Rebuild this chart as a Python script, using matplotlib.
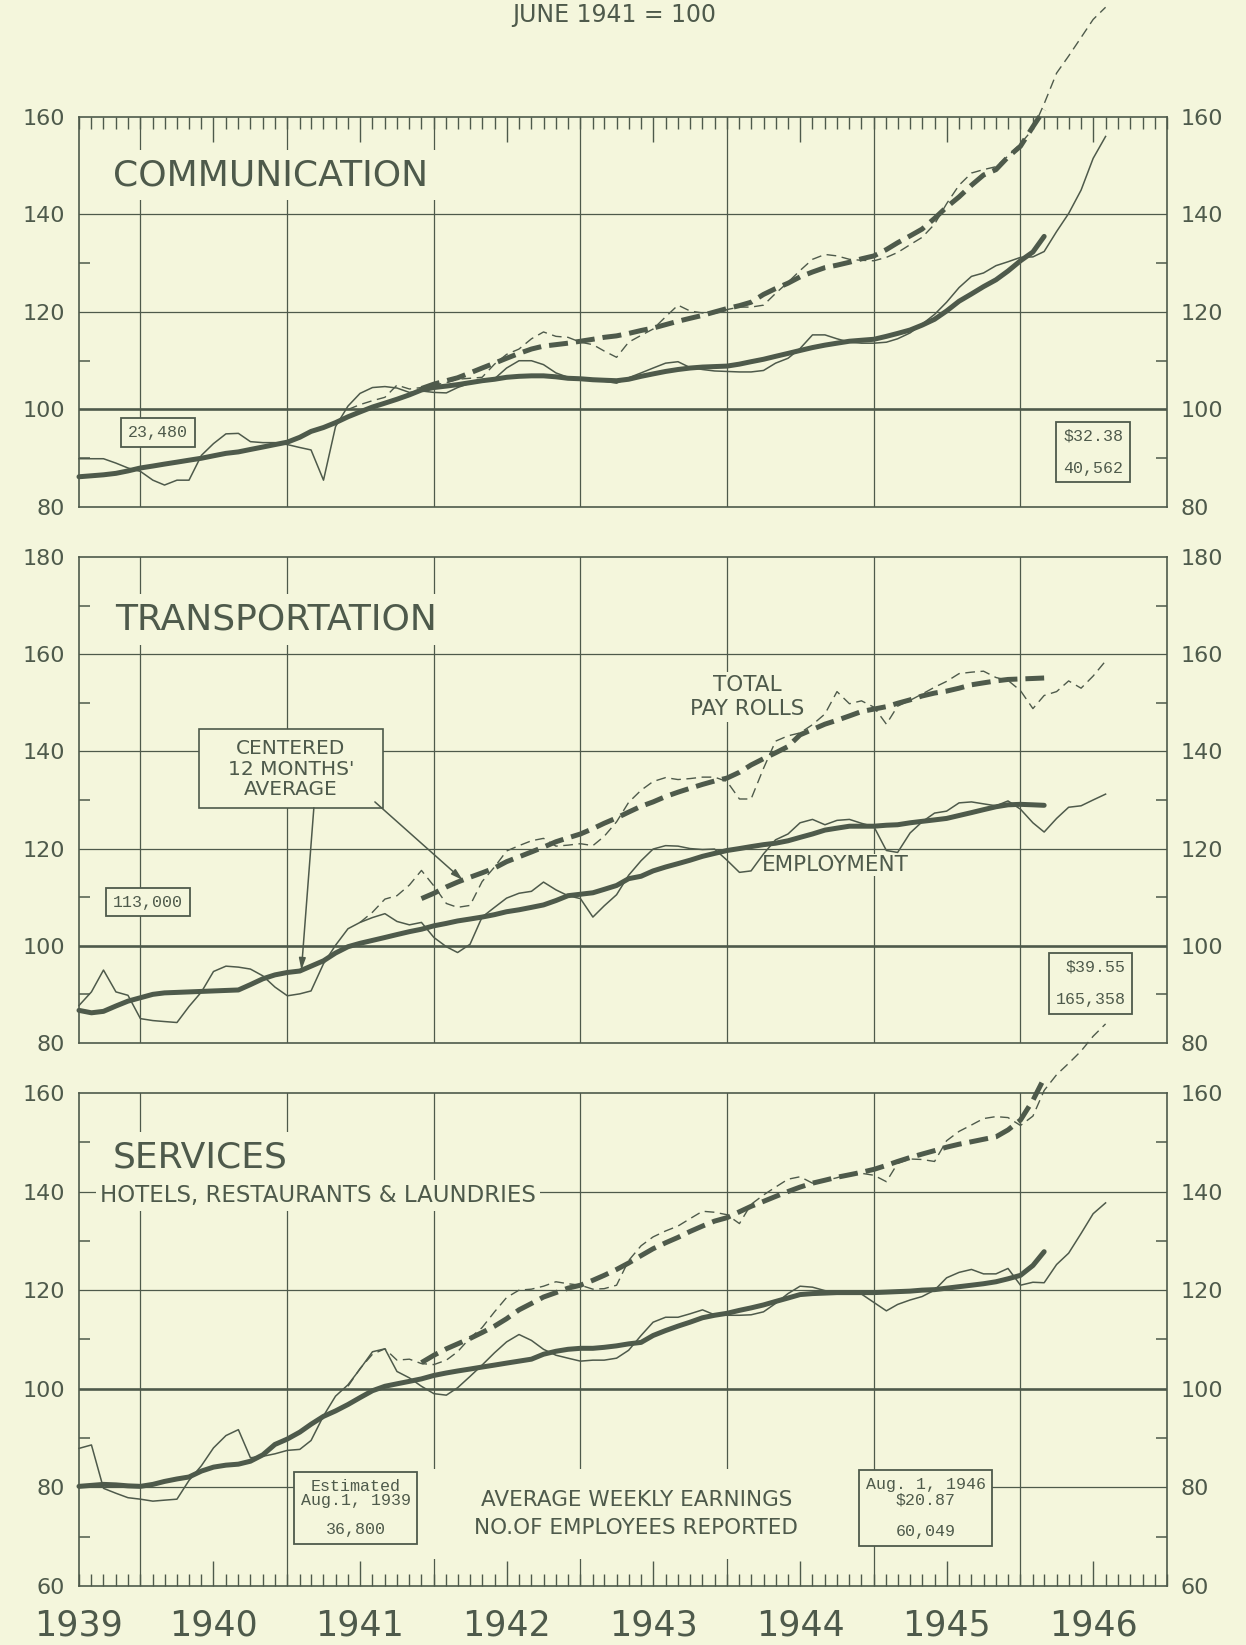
import matplotlib
matplotlib.use("Agg")
import matplotlib.pyplot as plt
import matplotlib.dates as mdates
from matplotlib.patches import Rectangle
import pandas as pd

BG = "#f4f6dc"
INK = "#4e5a4b"

# monthly points, Aug 1939 .. Aug 1946 (index June 1941 = 100)
months = pd.date_range("1939-08-01", "1946-08-01", freq="MS")

# ---- communication
comm_emp = [89.9, 89.9, 89.9, 89.0, 88.0, 87.3, 85.5, 84.5, 85.5, 85.5,
            90.6, 93.0, 95.0, 95.1, 93.4, 93.2, 93.2, 92.8, 92.2, 91.7,
            85.5, 96.5, 100.7, 103.3, 104.5, 104.7, 104.4, 103.5, 103.8, 103.5,
            103.4, 104.5, 105.4, 105.9, 106.3, 108.5, 110.0, 110.0, 109.2, 107.5,
            106.6, 106.3, 106.0, 105.8, 105.4, 106.5, 107.5, 108.5, 109.5, 109.8,
            108.6, 108.2, 107.9, 107.8, 107.7, 107.7, 108.0, 109.5, 110.5, 112.5,
            115.3, 115.3, 114.5, 113.8, 113.6, 113.6, 113.8, 114.5, 115.7, 117.5,
            119.5, 122.0, 125.0, 127.3, 128.0, 129.5, 130.3, 131.2, 131.3, 132.4,
            136.5, 140.2, 145.0, 151.5, 156.0]
comm_emp_avg = [86.2, 86.4, 86.6, 86.9, 87.4, 88.0, 88.4, 88.8, 89.2, 89.6,
                90.0, 90.5, 91.0, 91.3, 91.8, 92.3, 92.8, 93.3, 94.3, 95.5,
                96.3, 97.3, 98.5, 99.5, 100.5, 101.3, 102.1, 103.0, 104.0, 104.5,
                104.8, 105.1, 105.5, 105.9, 106.2, 106.6, 106.8, 106.9, 106.9, 106.7,
                106.4, 106.3, 106.1, 106.0, 105.9, 106.2, 106.8, 107.3, 107.8, 108.2,
                108.5, 108.7, 108.8, 108.9, 109.3, 109.8, 110.3, 110.9, 111.5, 112.1,
                112.7, 113.2, 113.6, 114.0, 114.2, 114.4, 115.0, 115.6, 116.3, 117.3,
                118.5, 120.2, 122.2, 123.7, 125.2, 126.6, 128.4, 130.5, 132.3, 135.5]
comm_pay_start = 22   # June 1941
comm_pay = [100.0, 101.0, 101.8, 102.5, 105.0, 104.2, 104.5, 105.0,
            105.5, 106.2, 106.4, 106.6, 109.3, 111.3, 112.4, 114.5, 115.9, 115.0,
            114.8, 113.8, 113.3, 112.0, 110.7, 113.8, 115.2, 116.5, 119.0, 121.4,
            120.2, 119.8, 119.7, 120.5, 121.0, 121.0, 121.4, 123.8, 126.1, 128.5,
            130.8, 131.8, 131.5, 130.8, 130.6, 130.5, 131.2, 132.2, 133.8, 135.3,
            138.0, 142.2, 146.0, 148.5, 149.2, 149.8, 152.0, 154.5, 157.5, 162.7,
            169.0, 172.5, 176.3, 180.0, 182.5]
comm_pay_avg = [104.3, 105.2,
                105.9, 106.5, 107.5, 108.5, 109.5, 110.5, 111.5, 112.4, 113.0, 113.3,
                113.6, 114.0, 114.4, 114.8, 115.1, 115.6, 116.2, 116.7, 117.4, 118.1,
                118.7, 119.3, 120.0, 120.7, 121.3, 122.0, 123.6, 124.8, 125.9, 127.2,
                128.2, 129.1, 129.6, 130.2, 130.9, 131.5, 132.8, 134.2, 135.6, 137.0,
                139.2, 141.5, 143.6, 146.0, 148.1, 149.2, 151.8, 154.0, 158.0, 161.5]

# ---- transportation
trans_emp = [87.7, 90.5, 95.0, 90.5, 89.8, 85.0, 84.6, 84.4, 84.2, 87.5,
             90.5, 94.7, 95.8, 95.6, 95.2, 93.8, 91.5, 89.7, 90.1, 90.7,
             96.3, 100.1, 103.5, 104.8, 105.8, 106.6, 105.0, 104.3, 104.8, 101.7,
             99.8, 98.6, 100.3, 105.9, 107.9, 109.8, 110.8, 111.2, 113.1, 111.5,
             110.3, 109.7, 105.9, 108.2, 110.5, 114.5, 117.5, 119.9, 120.6, 120.5,
             120.0, 119.8, 119.9, 117.6, 115.1, 115.4, 118.9, 121.8, 123.0, 125.3,
             126.0, 124.9, 125.8, 126.0, 125.2, 124.5, 119.6, 119.2, 123.2, 125.5,
             127.3, 127.7, 129.4, 129.6, 129.2, 128.8, 129.8, 128.1, 125.3, 123.4,
             126.2, 128.5, 128.8, 130.0, 131.2]
trans_emp_avg = [86.7, 86.2, 86.5, 87.6, 88.6, 89.3, 90.0, 90.3, 90.4, 90.5,
                 90.6, 90.7, 90.8, 90.9, 92.0, 93.2, 94.0, 94.5, 94.8, 95.8,
                 96.9, 98.5, 99.8, 100.5, 101.1, 101.7, 102.3, 102.9, 103.4, 104.1,
                 104.6, 105.1, 105.5, 105.9, 106.4, 107.0, 107.4, 107.9, 108.4, 109.3,
                 110.3, 110.6, 110.9, 111.6, 112.4, 113.8, 114.3, 115.4, 116.2, 116.9,
                 117.6, 118.4, 119.0, 119.6, 120.0, 120.4, 120.8, 121.1, 121.6, 122.3,
                 123.0, 123.8, 124.2, 124.6, 124.6, 124.6, 124.8, 124.9, 125.3, 125.6,
                 125.9, 126.2, 126.8, 127.4, 128.0, 128.6, 129.0, 129.1, 129.0, 128.9]
trans_pay_start = 23   # July 1941
trans_pay = [104.8, 106.9, 109.6, 110.3, 112.5, 115.5, 112.3,
             108.7, 107.9, 108.3, 113.2, 116.2, 119.5, 120.6, 121.6, 122.1, 120.5,
             120.7, 121.0, 120.6, 122.5, 125.5, 129.5, 132.0, 133.8, 134.6, 134.2,
             134.4, 134.7, 134.7, 133.8, 130.2, 130.2, 136.5, 142.1, 143.2, 143.8,
             145.5, 147.7, 152.3, 149.8, 150.4, 149.1, 145.6, 149.3, 150.5, 151.8,
             153.2, 154.4, 156.0, 156.3, 156.5, 155.2, 154.6, 152.5, 148.8, 151.5,
             152.3, 154.5, 153.0, 155.5, 158.6]
trans_pay_avg = [109.7, 110.8,
                 112.1, 113.1, 114.1, 115.0, 116.0, 117.3, 118.3, 119.3, 120.3, 121.4,
                 122.2, 123.0, 124.1, 125.2, 126.3, 127.5, 128.7, 129.6, 130.7, 131.6,
                 132.4, 133.2, 133.9, 134.5, 135.7, 137.2, 138.5, 139.7, 141.0, 143.4,
                 144.5, 145.6, 146.4, 147.3, 148.2, 148.7, 149.2, 149.9, 150.6, 151.4,
                 152.0, 152.4, 153.0, 153.7, 154.1, 154.5, 154.8, 154.9, 155.0, 155.1]

# ---- services
serv_emp = [87.9, 88.6, 79.8, 78.8, 77.9, 77.6, 77.2, 77.4, 77.6, 81.4,
            84.4, 88.0, 90.5, 91.7, 86.0, 86.3, 86.8, 87.5, 87.7, 89.5,
            94.5, 98.5, 100.8, 104.0, 107.5, 108.1, 103.5, 102.2, 100.5, 99.0,
            98.7, 100.2, 102.5, 104.8, 107.3, 109.5, 111.0, 109.8, 108.0, 106.8,
            106.2, 105.6, 105.8, 105.8, 106.2, 107.8, 110.8, 113.5, 114.5, 114.5,
            115.2, 116.0, 115.0, 114.9, 114.9, 115.0, 115.6, 117.3, 119.3, 120.8,
            120.6, 119.9, 119.6, 119.4, 119.2, 117.5, 115.8, 117.1, 118.0, 118.7,
            120.0, 122.5, 123.6, 124.2, 123.3, 123.3, 124.4, 121.0, 121.6, 121.5,
            125.2, 127.5, 131.5, 135.5, 137.7]
serv_emp_avg = [80.2, 80.4, 80.6, 80.5, 80.3, 80.2, 80.6, 81.2, 81.7, 82.1,
                83.3, 84.1, 84.5, 84.7, 85.3, 86.6, 88.7, 89.8, 91.2, 92.8,
                94.4, 95.5, 96.8, 98.2, 99.6, 100.5, 101.0, 101.5, 102.0, 102.7,
                103.2, 103.6, 104.0, 104.4, 104.8, 105.2, 105.6, 106.0, 107.0, 107.6,
                108.0, 108.2, 108.2, 108.4, 108.7, 109.1, 109.4, 110.8, 111.8, 112.7,
                113.5, 114.4, 114.9, 115.3, 115.9, 116.4, 117.0, 117.7, 118.4, 119.1,
                119.3, 119.4, 119.5, 119.5, 119.5, 119.5, 119.6, 119.7, 119.8, 120.0,
                120.1, 120.4, 120.7, 121.0, 121.3, 121.7, 122.3, 123.0, 125.0, 127.8]
serv_pay_start = 22
serv_pay = [100.5, 104.1, 107.0, 108.1, 105.8, 106.0, 105.1, 104.9,
            105.8, 107.5, 110.3, 112.4, 115.6, 118.5, 120.0, 120.2, 120.8, 121.7,
            121.3, 121.0, 120.2, 120.3, 121.0, 126.0, 129.0, 130.8, 132.0, 133.0,
            134.5, 136.0, 135.8, 135.3, 133.5, 137.4, 139.3, 140.9, 142.5, 143.0,
            141.7, 142.2, 142.8, 143.6, 143.7, 143.3, 142.0, 145.7, 146.6, 146.5,
            146.1, 150.3, 152.2, 153.5, 154.8, 155.2, 155.0, 153.4, 155.3, 160.5,
            163.7, 166.0, 168.5, 171.5, 174.0]
serv_pay_avg = [105.3, 106.8,
                108.1, 109.1, 110.2, 111.4, 112.7, 114.2, 116.0, 117.3, 118.6, 119.5,
                120.4, 121.0, 122.0, 123.0, 124.2, 125.5, 127.0, 128.4, 129.6, 130.7,
                131.9, 133.0, 134.0, 134.7, 135.9, 137.0, 138.0, 139.0, 140.0, 140.9,
                141.7, 142.3, 142.9, 143.4, 143.9, 144.5, 145.3, 146.1, 146.9, 147.6,
                148.3, 149.0, 149.6, 150.1, 150.6, 151.1, 152.5, 154.5, 158.5, 163.0]
AVG_START = 28   # December 1941

year_labels = ["1939", "1940", "1941", "1942", "1943", "1944", "1945", "1946"]


def d(s):
    return mdates.datestr2num(s)


x = mdates.date2num(months.values)
jan_lines = [d(f"{y}-01-01") for y in range(1940, 1947)]

plt.rcParams["font.family"] = "DejaVu Sans"
fig = plt.figure(figsize=(12.46, 16.45), dpi=100, facecolor=BG)


def panel(rect, emp, emp_avg, pay, pay_start, pay_avg, ylo, yhi, hgrid, minor):
    ax = fig.add_axes(rect)
    ax.set_facecolor("none")
    ax.set_xlim(d("1939-08-01"), d("1947-01-01"))
    ax.set_ylim(ylo, yhi)
    for v in hgrid:
        ax.axhline(v, color=INK, lw=0.9, zorder=1)
    ax.axhline(100, color=INK, lw=1.9, zorder=1)
    for j in jan_lines:
        ax.axvline(j, color=INK, lw=0.9, zorder=1)

    ax.plot(x, emp, color=INK, lw=1.1, zorder=4, clip_on=False)
    ax.plot(x[:len(emp_avg)], emp_avg, color=INK, lw=3.6,
            solid_capstyle="round", zorder=4, clip_on=False)
    ax.plot(x[pay_start:pay_start + len(pay)], pay, color=INK, lw=1.0,
            dashes=(7, 4), zorder=4, clip_on=False)
    ax.plot(x[AVG_START:AVG_START + len(pay_avg)], pay_avg, color=INK, lw=3.6,
            dashes=(3.8, 1.6), zorder=4, clip_on=False)

    for s in ax.spines.values():
        s.set_color(INK)
        s.set_linewidth(1.2)
    ax.set_yticks(range(ylo, yhi + 1, 20))
    ax.set_yticks(minor, minor=True)
    ax.tick_params(axis="y", which="major", length=0, labelleft=True, labelright=True,
                   pad=10, labelsize=16, labelcolor=INK)
    ax.tick_params(axis="y", which="minor", direction="in", left=True, right=True,
                   length=8, width=1.1, color=INK)
    ax.xaxis.set_major_locator(mdates.MonthLocator(bymonth=7))
    ax.xaxis.set_minor_locator(mdates.MonthLocator())
    ax.tick_params(axis="x", which="both", bottom=False, top=False,
                   labelbottom=False, labeltop=False, direction="in", color=INK)
    ax.tick_params(axis="x", which="major", length=18, width=1.0)
    ax.tick_params(axis="x", which="minor", length=8.5, width=1.0)
    return ax


W = 0.8732
ax1 = panel([0.0634, 0.6918, W, 0.2371], comm_emp, comm_emp_avg, comm_pay,
            comm_pay_start, comm_pay_avg, 80, 160, [120, 140], [90, 110, 130])
ax2 = panel([0.0634, 0.3660, W, 0.2954], trans_emp, trans_emp_avg, trans_pay,
            trans_pay_start, trans_pay_avg, 80, 180, [120, 140, 160], [90, 110, 130, 150, 170])
ax3 = panel([0.0634, 0.0359, W, 0.2997], serv_emp, serv_emp_avg, serv_pay,
            serv_pay_start, serv_pay_avg, 60, 160, [80, 120, 140], [70, 90, 110, 130, 150])

ax1.tick_params(axis="x", which="both", top=True)
ax3.tick_params(axis="x", which="both", bottom=True)

fig.text(0.493, 1 - 15 / 1645, "JUNE 1941 = 100", ha="center", va="center",
         fontsize=17, color=INK)

gap = dict(facecolor=BG, edgecolor="none", pad=6)
big = dict(fontsize=26, color=INK, ha="left", va="center", zorder=3)
ax1.text(0.031, 0.851, "COMMUNICATION", transform=ax1.transAxes, bbox=gap, **big)
ax2.text(0.033, 0.872, "TRANSPORTATION", transform=ax2.transAxes, bbox=gap, **big)
ax3.text(0.031, 0.870, "SERVICES", transform=ax3.transAxes, bbox=gap, **big)
ax3.text(0.019, 139.2, "HOTELS, RESTAURANTS & LAUNDRIES", transform=ax3.get_yaxis_transform(),
         fontsize=16.5, color=INK, ha="left", va="center", zorder=3,
         bbox=dict(facecolor=BG, edgecolor="none", pad=3))

# typed boxes
mono = dict(family="Liberation Mono", fontsize=12, color=INK, zorder=5)
box = dict(boxstyle="square,pad=0.4", facecolor=BG, edgecolor=INK, linewidth=1.3)
ax1.text(d("1940-02-14"), 95.3, "23,480", ha="center", va="center", bbox=box, **mono)
ax1.text(d("1946-07-01"), 91.3, "$32.38\n\n40,562", ha="center", va="center",
         linespacing=1.1, bbox=box, **mono)
ax2.text(d("1940-01-20"), 109.0, "113,000", ha="center", va="center", bbox=box, **mono)
ax2.text(d("1946-06-25"), 92.3, "$39.55\n\n165,358", ha="center", va="center",
         multialignment="right", linespacing=1.1, bbox=box, **mono)
ax3.text(d("1941-06-20"), 75.8, "Estimated\nAug.1, 1939\n\n36,800", ha="center", va="center",
         linespacing=0.95, bbox=box, **mono)
ax3.text(d("1945-05-10"), 75.8, "Aug. 1, 1946\n$20.87\n\n60,049", ha="center", va="center",
         linespacing=1.05, bbox=box, **mono)

# blank the grid under the earnings legend
ax3.add_patch(Rectangle((d("1941-11-20"), 65.5), d("1944-11-25") - d("1941-11-20"), 18.3,
                        facecolor=BG, edgecolor="none", zorder=2))
ax3.text(d("1943-05-20"), 74.6, "AVERAGE WEEKLY EARNINGS\nNO.OF EMPLOYEES REPORTED",
         ha="center", va="center", fontsize=15.5, color=INK, linespacing=1.45, zorder=3)

# transportation labels
ax2.text(d("1944-02-20"), 151.2, "TOTAL\nPAY ROLLS", ha="center", va="center",
         fontsize=15.5, color=INK, linespacing=1.25, zorder=3,
         bbox=dict(facecolor=BG, edgecolor="none", pad=2))
ax2.text(d("1944-03-28"), 116.6, "EMPLOYMENT", ha="left", va="center",
         fontsize=15.5, color=INK, zorder=3, bbox=dict(facecolor=BG, edgecolor="none", pad=1))
ax2.add_patch(Rectangle((d("1940-05-27"), 128.4), d("1941-08-28") - d("1940-05-27"), 16.2,
                        facecolor=BG, edgecolor=INK, linewidth=1.2, zorder=5))
ax2.text(d("1941-01-10"), 136.3, "CENTERED\n12 MONTHS'\nAVERAGE", ha="center", va="center",
         fontsize=14.5, color=INK, linespacing=1.1, zorder=6)
arrow = dict(arrowstyle="-|>,head_length=0.7,head_width=0.2", color=INK, lw=1.1,
             shrinkA=0, shrinkB=0)
ax2.annotate("", xy=(d("1941-02-05"), 95.0), xytext=(d("1941-03-08"), 128.4),
             arrowprops=arrow, zorder=5)
ax2.annotate("", xy=(d("1942-03-14"), 113.5), xytext=(d("1941-08-07"), 129.6),
             arrowprops=arrow, zorder=5)

# year labels under the bottom panel
year_pos = ["1939-08-01", "1940-07-01", "1941-07-01", "1942-07-01",
            "1943-07-01", "1944-07-01", "1945-07-01", "1946-07-01"]
for lab, p in zip(year_labels, year_pos):
    ax3.text(d(p), -0.081, lab, transform=ax3.get_xaxis_transform(), ha="center",
             va="center", fontsize=25, color=INK)

fig.savefig("out.png", dpi=100, facecolor=BG)
